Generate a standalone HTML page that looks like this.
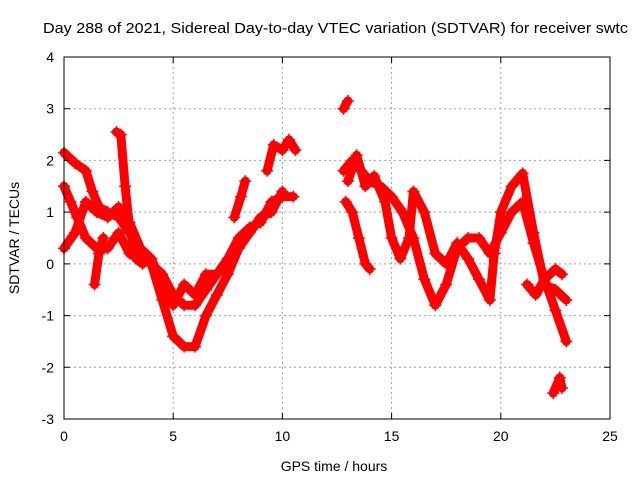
<!DOCTYPE html>
<html><head><meta charset="utf-8"><style>
body{margin:0;background:#fff}
svg{display:block;font-family:"Liberation Sans",sans-serif}
</style></head><body>
<svg id="chart" width="640" height="480" xmlns="http://www.w3.org/2000/svg">
<rect width="640" height="480" fill="#fff"/>
<g id="grid"></g>
<g id="series"></g>
<rect x="64" y="57" width="546" height="362" fill="none" stroke="#000" stroke-width="1"/>
<g id="axes"></g>
<text x="43" y="33" font-size="15" textLength="585" lengthAdjust="spacingAndGlyphs">Day 288 of 2021, Sidereal Day-to-day VTEC variation (SDTVAR) for receiver swtc</text>
<text x="334" y="471" font-size="14" text-anchor="middle">GPS time / hours</text>
<text transform="translate(19,238) rotate(-90)" font-size="14" text-anchor="middle">SDTVAR / TECUs</text>
</svg>
<script>
const xTicks=[0,5,10,15,20,25];
const yTicks=[-3,-2,-1,0,1,2,3,4];
const t1h=[0,0.5,1,1.3,1.6,2,2.5,3,3.5,4,4.5,5,5.5,6,6.5,7,7.5,8,8.5,9,9.5,10,10.5];
const t1v=[2.15,1.95,1.8,1.4,1.1,1.0,0.9,0.6,0.2,0.0,-0.2,-0.6,-0.8,-0.8,-0.5,-0.2,0.1,0.5,0.7,0.8,1.2,1.3,1.3];
const t2h=[0,0.3,0.6,1,1.5,2,2.5,3,3.5,4,4.5,5,5.5,6,6.5,7,7.5,8,8.5,9,9.5,10];
const t2v=[1.5,1.2,0.9,0.5,0.3,0.3,0.6,0.2,0.1,0.0,-0.7,-1.4,-1.6,-1.6,-1.0,-0.6,-0.2,0.3,0.6,0.9,1.0,1.4];
const t3h=[0,0.5,1,1.5,2,2.5,3,3.5,4,4.5,5,5.5,6,6.5,7,7.5];
const t3v=[0.3,0.6,1.2,1.0,0.9,1.1,0.8,0.3,0.1,-0.4,-0.8,-0.4,-0.6,-0.2,-0.2,0.0];
const t4h=[2.4,2.6,2.8,3,3.3,3.6];
const t4v=[2.55,2.5,1.5,0.7,0.1,0.0];
const t5h=[1.4,1.6,1.8];
const t5v=[-0.4,0.2,0.5];
const t6h=[7.8,8.1,8.3];
const t6v=[0.9,1.3,1.6];
const t7h=[9.3,9.6,10,10.3,10.6];
const t7v=[1.8,2.3,2.2,2.4,2.2];
const t8h=[12.8,13];
const t8v=[3.0,3.15];
const t9h=[12.9,13.2,13.5,13.8,14];
const t9v=[1.2,1.0,0.5,0.0,-0.1];
const t10h=[12.8,13.2,13.6,14,14.5,15,15.5,16,16.5,17,17.5,18,18.5,19,19.5,20,20.5,21,21.5,22,22.5,23];
const t10v=[1.8,2.0,1.8,1.6,1.5,1.3,1.0,0.5,-0.3,-0.8,-0.4,0.3,0.5,0.5,0.2,0.6,1.0,1.2,0.4,-0.3,-0.9,-1.5];
const t11h=[13,13.4,13.8,14.2,14.7,15,15.4,15.8,16,16.5,17,17.5,18,18.5,19,19.5,19.7,20,20.5,21,21.5,22,22.5,23];
const t11v=[1.6,2.1,1.5,1.7,1.2,0.5,0.1,0.5,1.4,1.0,0.2,0.0,0.4,0.1,-0.3,-0.7,0.2,1.0,1.5,1.75,0.6,-0.4,-0.5,-0.7];
const t12h=[21.2,21.6,22,22.5,22.8];
const t12v=[-0.4,-0.6,-0.3,-0.1,-0.2];
const t13h=[22.4,22.7,22.8];
const t13v=[-2.5,-2.2,-2.4];
const traces=[[t1h,t1v],[t2h,t2v],[t3h,t3v],[t4h,t4v],[t5h,t5v],[t6h,t6v],[t7h,t7v],[t8h,t8v],[t9h,t9v],[t10h,t10v],[t11h,t11v],[t12h,t12v],[t13h,t13v]];

const NS='http://www.w3.org/2000/svg';
const X0=64,X1=610,Y0=419,Y1=57;
function xs(h){return X0+(h-0)/(25-0)*(X1-X0);}
function ys(v){return Y0-(v+3)/(7)*(Y0-Y1);}
function mk(tag,attrs,parent){const e=document.createElementNS(NS,tag);for(const k in attrs)e.setAttribute(k,attrs[k]);parent.appendChild(e);return e;}
const grid=document.getElementById('grid'),axes=document.getElementById('axes'),ser=document.getElementById('series');
xTicks.forEach(t=>{const x=xs(t);
 if(t>0&&t<25){const g=mk('line',{x1:x,x2:x,y1:Y0,y2:Y1,stroke:'#a0a0a0','stroke-dasharray':'2,3'},grid);
 
 }
 const tk=mk('path',{d:`M${x},${Y0}v-6M${x},${Y1}v6`,stroke:'#000'},axes);
 
 
 const l=mk('text',{x:x,y:Y0+22,'font-size':14,'text-anchor':'middle'},axes);l.textContent=t;
 
 
});
yTicks.forEach(t=>{const y=ys(t);
 if(t>-3&&t<4){const g=mk('line',{x1:X0,x2:X1,y1:y,y2:y,stroke:'#a0a0a0','stroke-dasharray':'2,3'},grid);
 
 }
 const tk=mk('path',{d:`M${X0},${y}h6M${X1},${y}h-6`,stroke:'#000'},axes);
 
 
 const l=mk('text',{x:X0-10,y:y+5,'font-size':14,'text-anchor':'end'},axes);l.textContent=t;
 
 
});
traces.forEach((tr,i)=>{const [h,v]=tr;
 const pts=h.map((hh,j)=>xs(hh)+','+ys(v[j])).join(' ');
 const g=mk('g',{},ser);
 
 
 mk('polyline',{points:pts,fill:'none',stroke:'#f00','stroke-width':9,'stroke-linejoin':'round','stroke-linecap':'round'},g);
 h.forEach((hh,j)=>{const x=xs(hh),y=ys(v[j]);
  const p=mk('path',{d:`M${x-6},${y}h12M${x},${y-6}v12`,stroke:'#f00','stroke-width':1.5},g);
  
  
 });
});
</script>
</body></html>
